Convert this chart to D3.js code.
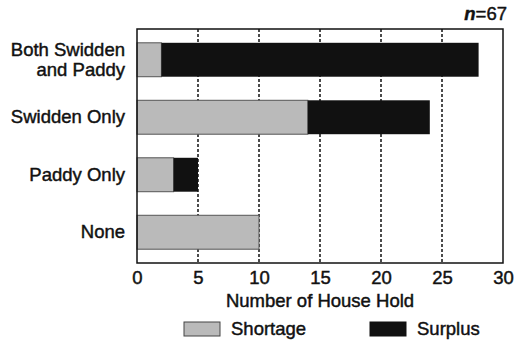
<!DOCTYPE html>
<html>
<head>
<meta charset="utf-8">
<script src="https://cdn.jsdelivr.net/npm/d3@7"></script>
<style>
  body { margin: 0; background: #fff; }
  svg { font-family: "Liberation Sans", Arial, sans-serif; }
  svg text { stroke: #111; stroke-width: 0.45px; }
</style>
</head>
<body>
<div id="chart"></div>
<script>
// data
var categories = ["Both Swidden|and Paddy", "Swidden Only", "Paddy Only", "None"];
var shortage = [2, 14, 3, 10];
var surplus = [26, 10, 2, 0];
var xTicks = [0, 5, 10, 15, 20, 25, 30];
var seriesNames = ["Shortage", "Surplus"];

var width = 517, height = 342;
var margin = {top: 29, right: 14, bottom: 79, left: 137};
var fs = 18.5;

var svg = d3.select("#chart").append("svg")
    .attr("width", width)
    .attr("height", height);

var x = d3.scaleLinear().domain([0, 30]).range([margin.left, width - margin.right]);
var y = d3.scaleBand().domain(categories)
    .range([margin.top, height - margin.bottom])
    .paddingInner(0.41)
    .paddingOuter(0.24);

// dashed grid lines
svg.selectAll(".grid")
    .data(xTicks.slice(1, -1))
    .enter().append("line")
    .attr("class", "grid")
    .attr("x1", function(d) { return x(d); })
    .attr("x2", function(d) { return x(d); })
    .attr("y1", margin.top)
    .attr("y2", height - margin.bottom)
    .attr("stroke", "#111")
    .attr("stroke-width", 1.5)
    .attr("stroke-dasharray", "3,2");

var rows = categories.map(function(c, i) {
  return {cat: c, s: shortage[i], p: surplus[i]};
});

// shortage bars
svg.selectAll(".short")
    .data(rows)
    .enter().append("rect")
    .attr("class", "short")
    .attr("x", x(0))
    .attr("y", function(d) { return y(d.cat); })
    .attr("width", function(d) { return x(d.s) - x(0); })
    .attr("height", y.bandwidth())
    .attr("fill", "#bababa")
    .attr("stroke", "#555")
    .attr("stroke-width", 1);

// surplus bars
svg.selectAll(".surp")
    .data(rows.filter(function(d) { return d.p > 0; }))
    .enter().append("rect")
    .attr("class", "surp")
    .attr("x", function(d) { return x(d.s); })
    .attr("y", function(d) { return y(d.cat); })
    .attr("width", function(d) { return x(d.s + d.p) - x(d.s); })
    .attr("height", y.bandwidth())
    .attr("fill", "#111");

// frame
svg.append("rect")
    .attr("x", x(0))
    .attr("y", margin.top)
    .attr("width", x(30) - x(0))
    .attr("height", height - margin.bottom - margin.top)
    .attr("fill", "none")
    .attr("stroke", "#111")
    .attr("stroke-width", 1.5);

// x axis
var xAxis = d3.axisBottom(x).tickValues(xTicks).tickSize(0).tickPadding(8);
var gx = svg.append("g")
    .attr("transform", "translate(0," + (height - margin.bottom) + ")")
    .call(xAxis);
gx.select(".domain").remove();
gx.selectAll("text")
    .attr("font-size", fs)
    .attr("font-family", "Liberation Sans, Arial, sans-serif")
    .attr("fill", "#111");

svg.append("text")
    .attr("x", (x(0) + x(30)) / 2)
    .attr("y", 307)
    .attr("text-anchor", "middle")
    .attr("font-size", fs)
    .attr("fill", "#111")
    .text("Number of House Hold");

// y labels
svg.selectAll(".ylab")
    .data(categories)
    .enter().append("text")
    .attr("class", "ylab")
    .attr("x", 125)
    .attr("y", function(d) { return y(d) + y.bandwidth() / 2; })
    .attr("text-anchor", "end")
    .attr("font-size", fs)
    .attr("fill", "#111")
    .each(function(d) {
      var lines = d.split("|");
      var t = d3.select(this);
      lines.forEach(function(l, i) {
        t.append("tspan")
          .attr("x", 125)
          .attr("dy", i == 0 ? (6 - (lines.length - 1) * 10) + "px" : "20px")
          .text(l);
      });
    });

// n label
var nt = svg.append("text")
    .attr("x", 507)
    .attr("y", 20)
    .attr("text-anchor", "end")
    .attr("font-size", fs)
    .attr("fill", "#111");
nt.append("tspan").attr("font-style", "italic").attr("font-weight", "bold").text("n");
nt.append("tspan").text("=67");

// legend
var legX = [184, 370];
var leg = svg.selectAll(".leg")
    .data(seriesNames)
    .enter().append("g")
    .attr("class", "leg")
    .attr("transform", function(d, i) { return "translate(" + legX[i] + ",322)"; });
leg.append("rect")
    .attr("width", 36)
    .attr("height", 14)
    .attr("fill", function(d, i) { return i == 0 ? "#bababa" : "#111"; })
    .attr("stroke", function(d, i) { return i == 0 ? "#444" : "#111"; })
    .attr("stroke-width", 1);
leg.append("text")
    .attr("x", 47)
    .attr("y", 13)
    .attr("font-size", fs)
    .attr("fill", "#111")
    .text(function(d) { return d; });
</script>
</body>
</html>
